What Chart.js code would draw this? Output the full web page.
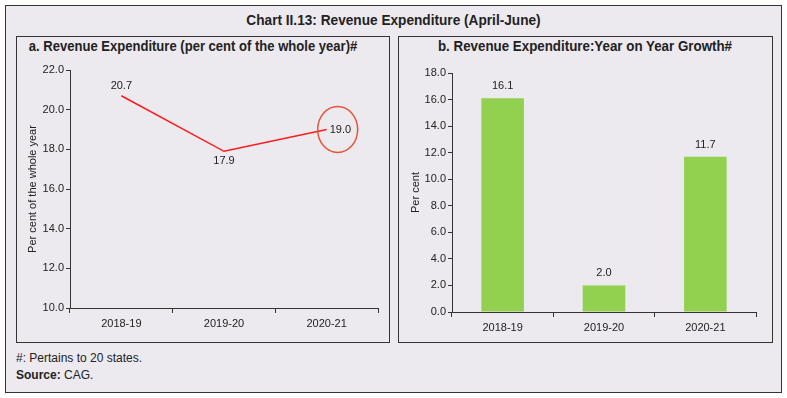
<!DOCTYPE html>
<html>
<head>
<meta charset="utf-8">
<script src="https://cdn.jsdelivr.net/npm/chart.js@4"></script>
<style>
  body { margin: 0; background: #fff; font-family: "Liberation Sans", Arial, sans-serif; }
  #frame { position: absolute; left: 5px; top: 5px; width: 775px; height: 386px; border: 1px solid #333; background: #ece9ef; }
  .title { position: absolute; font-family: "Liberation Sans", Arial, sans-serif; font-weight: bold; color: #222; white-space: nowrap; text-align: center; transform-origin: center; }
  .panel { position: absolute; top: 36px; height: 305px; border: 1px solid #333; }
  canvas { position: absolute; }
  .note { position: absolute; left: 16px; font-size: 12px; color: #222; }
</style>
</head>
<body>
<div id="frame"></div>
<div class="title" style="left:0;width:787px;top:11px;font-size:15px;transform:scaleX(0.91);">Chart II.13: Revenue Expenditure (April-June)</div>
<div class="panel" style="left:16px;width:372px;"></div>
<div class="panel" style="left:398px;width:373px;"></div>
<div class="title" style="left:7px;width:372px;top:38px;font-size:14.5px;transform:scaleX(0.9);">a. Revenue Expenditure (per cent of the whole year)#</div>
<div class="title" style="left:398px;width:374px;top:38px;font-size:14.5px;transform:scaleX(0.92);">b. Revenue Expenditure:Year on Year Growth#</div>
<canvas id="lineChart" width="372" height="285" style="left:16px;top:55px;"></canvas>
<canvas id="barChart" width="374" height="285" style="left:398px;top:55px;"></canvas>
<div class="note" style="top:351px;">#: Pertains to 20 states.</div>
<div class="note" style="top:368px;"><b>Source:</b> CAG.</div>
<script>
// ---------------- DATA ----------------
const years = ["2018-19", "2019-20", "2020-21"];
const shareOfYear = [20.7, 17.9, 19.0];   // per cent of the whole year
const yoyGrowth = [16.1, 2.0, 11.7];      // year on year growth, per cent

const shareTicks = { min: 10, max: 22, step: 2 };
const growthTicks = { min: 0, max: 18, step: 2 };

Chart.defaults.font.family = '"Liberation Sans", Arial, sans-serif';
Chart.defaults.font.size = 11;
Chart.defaults.color = "#222";
Chart.defaults.animation = false;

// value labels drawn next to each point / bar
const valueLabels = {
  id: "valueLabels",
  afterDatasetsDraw(chart, args, opts) {
    const ctx = chart.ctx;
    const meta = chart.getDatasetMeta(0);
    const data = chart.data.datasets[0].data;
    ctx.save();
    ctx.font = "11px 'Liberation Sans', Arial, sans-serif";
    ctx.fillStyle = "#222";
    ctx.textBaseline = "middle";
    meta.data.forEach((el, i) => {
      const pos = opts.place[i] || { dx: 0, dy: -12, align: "center" };
      ctx.textAlign = pos.align;
      ctx.fillText(data[i].toFixed(1), el.x + pos.dx, el.y + pos.dy);
    });
    ctx.restore();
  }
};

// the hand-drawn ring round the last point
const ring = {
  id: "ring",
  afterDatasetsDraw(chart) {
    const el = chart.getDatasetMeta(0).data[2];
    const ctx = chart.ctx;
    ctx.save();
    ctx.strokeStyle = "#e8553a";
    ctx.lineWidth = 1.5;
    ctx.beginPath();
    ctx.ellipse(el.x + 11, el.y, 20, 23, 0, 0, Math.PI * 2);
    ctx.stroke();
    ctx.restore();
  }
};

function yScale(t, width, titleText, titlePad) {
  return {
    min: t.min, max: t.max,
    afterFit(scale) { scale.width = width; },
    ticks: { stepSize: t.step, padding: 2, callback: v => v.toFixed(1) },
    grid: { drawOnChartArea: false, drawTicks: true, tickLength: 4, color: "#333" },
    border: { display: true, color: "#333", width: 1 },
    title: { display: true, text: titleText, padding: { top: titlePad, bottom: 0 }, font: { size: 11 } }
  };
}

function xScale(height) {
  return {
    offset: true,
    afterFit(scale) { scale.height = height; },
    ticks: { padding: 4 },
    grid: { offset: true, drawOnChartArea: false, drawTicks: true, tickLength: 5, color: "#333" },
    border: { display: true, color: "#333", width: 1 }
  };
}

// ---------- a. line chart ----------
new Chart(document.getElementById("lineChart").getContext("2d"), {
  type: "line",
  data: {
    labels: years,
    datasets: [{
      data: shareOfYear,
      borderColor: "#ff1a1a",
      borderWidth: 1.5,
      pointRadius: 0,
      tension: 0
    }]
  },
  options: {
    responsive: false,
    layout: { padding: { top: 15, right: 10, left: 0, bottom: 0 } },
    plugins: {
      legend: { display: false },
      tooltip: { enabled: false },
      valueLabels: {
        place: [
          { dx: 0, dy: -10, align: "center" },
          { dx: 0, dy: 10, align: "center" },
          { dx: 3, dy: 0, align: "left" }
        ]
      }
    },
    scales: {
      x: xScale(32),
      y: yScale(shareTicks, 54, "Per cent of the whole year", 10)
    }
  },
  plugins: [valueLabels, ring]
});

// ---------- b. bar chart ----------
new Chart(document.getElementById("barChart").getContext("2d"), {
  type: "bar",
  data: {
    labels: years,
    datasets: [{
      data: yoyGrowth,
      backgroundColor: "#92d050",
      categoryPercentage: 1,
      barPercentage: 0.42
    }]
  },
  options: {
    responsive: false,
    layout: { padding: { top: 18, right: 16, left: 0, bottom: 0 } },
    plugins: {
      legend: { display: false },
      tooltip: { enabled: false },
      valueLabels: { place: [] }
    },
    scales: {
      x: xScale(28),
      y: yScale(growthTicks, 54, "Per cent", 11)
    }
  },
  plugins: [valueLabels]
});
</script>
</body>
</html>
